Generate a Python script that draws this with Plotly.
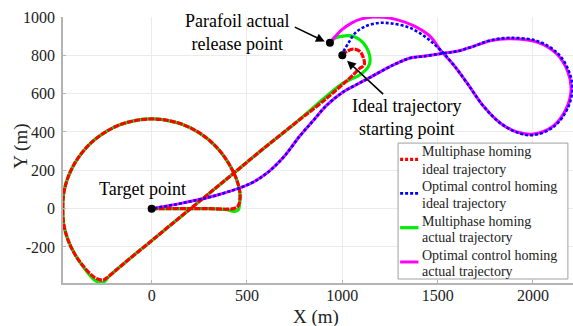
import plotly.graph_objects as go

# ---- trajectory samples (x, y in metres) ----
# Multiphase homing, ideal trajectory
mp_ideal_x = [1000, 1023, 1058, 1093, 1111, 1116, 1108, 1093, 1058, 919, 743, 569, 400, 204, 0, -150, -235,
              -252, -268, -301, -358, -405, -440, -461, -466, -461, -440, -405, -358, -301, -234, -160, -81,
              0, 81, 160, 234, 301, 358, 405, 446, 463, 460, 448, 430, 394, 300, 200, 100, 0]
mp_ideal_y = [800, 820, 833, 820, 786, 755, 742, 734, 699, 577, 438, 299, 160, 0, -167, -290, -361,
              -372, -372, -358, -301, -234, -160, -81, 0, 81, 160, 234, 301, 358, 405, 440, 461,
              468, 461, 440, 405, 358, 301, 234, 151, 82, 30, 8, 0, -3, 0, 0, 0, 0]

# Multiphase homing, actual trajectory
mp_actual_x = [935, 962, 1015, 1067, 1111, 1137, 1146, 1137, 1093, 1041, 1000, 743, 569, 400, 204, 0, -150,
               -225, -245, -268, -295, -341, -405, -440, -461, -466, -461, -440, -405, -358, -301, -234,
               -160, -81, 0, 81, 160, 234, 301, 358, 405, 446, 463, 462, 455, 438, 420, 394, 300, 200, 100, 0]
mp_actual_y = [865, 890, 902, 896, 864, 820, 777, 742, 699, 673, 652, 438, 299, 160, 0, -167, -290,
               -355, -378, -386, -376, -327, -234, -160, -81, 0, 81, 160, 234, 301, 358, 405,
               440, 461, 468, 461, 440, 405, 358, 301, 234, 151, 82, 35, -5, -14, -12, -5, 0, 0, 0, 0]

# Optimal control homing, ideal trajectory
oc_ideal_x = [1006, 1032, 1067, 1120, 1190, 1260, 1356, 1444, 1513, 1583, 1654, 1741, 1828, 1916, 2003,
              2108, 2178, 2207, 2189, 2128, 2021, 1881, 1776, 1688, 1601, 1540, 1426, 1356, 1268, 1146,
              1076, 1006, 919, 848, 778, 691, 604, 516, 341, 166, 0]
oc_ideal_y = [820, 864, 916, 951, 969, 966, 943, 890, 829, 751, 656, 534, 447, 398, 384,
              427, 516, 621, 716, 812, 875, 891, 878, 847, 821, 812, 795, 786, 750, 685,
              648, 610, 540, 460, 380, 268, 185, 130, 70, 30, 0]

# Optimal control homing, actual trajectory
oc_actual_x = [935, 960, 1000, 1050, 1100, 1160, 1220, 1290, 1373, 1461, 1513, 1583, 1654, 1741, 1828,
               1916, 2003, 2105, 2172, 2200, 2183, 2124, 2021, 1881, 1776, 1688, 1601, 1540, 1426, 1356,
               1268, 1146, 1076, 1006, 919, 848, 778, 691, 604, 516, 341, 166, 0]
oc_actual_y = [865, 895, 935, 969, 990, 1000, 998, 985, 955, 899, 829, 751, 656, 534, 447,
               400, 390, 430, 516, 621, 714, 808, 869, 886, 876, 847, 821, 812, 795, 786,
               750, 685, 648, 610, 540, 460, 380, 268, 185, 130, 70, 30, 0]

# Labelled points: target, ideal start, actual release
pt_x = [0, 1000, 935]
pt_y = [0, 800, 865]

# Axis ticks
x_ticks = [0, 500, 1000, 1500, 2000]
y_ticks = [-200, 0, 200, 400, 600, 800, 1000]

FONT = "Liberation Serif"
TXT = "#222222"

series = [
    # (x, y, colour, width, dash, legend text) -- actual runs first so the ideal ones sit on top
    (mp_actual_x, mp_actual_y, "#00ee00", 3.2, "solid", "Multiphase homing<br>actual trajectory"),
    (oc_actual_x, oc_actual_y, "#ff00ff", 3.0, "solid", "Optimal control homing<br>actual trajectory"),
    (mp_ideal_x, mp_ideal_y, "#ff0000", 3.2, "6px,1.2px", "Multiphase homing<br>ideal trajectory"),
    (oc_ideal_x, oc_ideal_y, "#0000ff", 2.6, "3px,2px", "Optimal control homing<br>ideal trajectory"),
]

fig = go.Figure()
for xs, ys, col, w, dash, name in series:
    fig.add_trace(go.Scatter(x=xs, y=ys, mode="lines", line_shape="spline",
                             line=dict(color=col, width=w, dash=dash),
                             name=name, showlegend=False))
fig.add_trace(go.Scatter(x=pt_x, y=pt_y, mode="markers", showlegend=False,
                         marker=dict(color="black", size=8)))

ann_font = dict(family=FONT, size=18, color="black")
fig.add_annotation(x=446, y=921, text="Parafoil actual<br>release point", showarrow=False,
                   font=ann_font)
fig.add_annotation(x=1335, y=475, text="Ideal trajectory<br>starting point", showarrow=False,
                   font=ann_font)
fig.add_annotation(x=-46, y=104, text="Target point", showarrow=False, font=ann_font)
# arrows pointing at the two start points
fig.add_annotation(x=908, y=872, ax=743, ay=951, axref="x", ayref="y", text="",
                   showarrow=True, arrowhead=2, arrowsize=1.1, arrowwidth=1.6, arrowcolor="black")
fig.add_annotation(x=1025, y=772, ax=1222, ay=590, axref="x", ayref="y", text="",
                   showarrow=True, arrowhead=2, arrowsize=1.1, arrowwidth=1.6, arrowcolor="black")

# axis titles
title_font = dict(family=FONT, size=19, color=TXT)
fig.add_annotation(xref="paper", yref="paper", x=0.496, y=-0.128, text="X (m)", showarrow=False,
                   xanchor="center", yanchor="middle", font=title_font)
fig.add_annotation(xref="paper", yref="paper", x=-0.084, y=0.513, text="Y (m)", showarrow=False,
                   textangle=-90, xanchor="center", yanchor="middle", font=title_font)

# ---- legend box (paper coordinates) ----
leg_x0, leg_x1, leg_y0, leg_y1 = 0.657, 0.990, 0.015, 0.526
fig.add_shape(type="rect", xref="paper", yref="paper", x0=leg_x0, x1=leg_x1, y0=leg_y0, y1=leg_y1,
              line=dict(color="#a0a0a0", width=1), fillcolor="white", layer="above")
legend_order = [2, 3, 0, 1]          # ideal MP, ideal OC, actual MP, actual OC
sample_y = [0.465, 0.337, 0.208, 0.079]
text_y = [(0.494, 0.427), (0.362, 0.300), (0.233, 0.170), (0.105, 0.042)]
for k, idx in enumerate(legend_order):
    _, _, col, w, dash, name = series[idx]
    fig.add_shape(type="line", xref="paper", yref="paper", x0=0.661, x1=0.697,
                  y0=sample_y[k], y1=sample_y[k], layer="above",
                  line=dict(color=col, width=w, dash=dash if dash == "solid" else "3px,2px"))
    for line_txt, ty in zip(name.split("<br>"), text_y[k]):
        fig.add_annotation(xref="paper", yref="paper", x=0.700, y=ty, text=line_txt,
                           showarrow=False, xanchor="left", yanchor="middle",
                           font=dict(family=FONT, size=14, color=TXT))

axis_common = dict(showgrid=True, gridcolor="#ebebeb", gridwidth=1, zeroline=False,
                   showline=True, linecolor="#b4b4b4", linewidth=1.5,
                   ticks="inside", ticklen=3, tickcolor="#b4b4b4",
                   tickfont=dict(family=FONT, size=16, color=TXT))

fig.update_xaxes(range=[-465, 2210], tickvals=x_ticks, ticktext=[str(v) for v in x_ticks],
                 ticklabelstandoff=-3, **axis_common)
fig.update_yaxes(range=[-388, 1000], tickvals=y_ticks, ticktext=[str(v) for v in y_ticks],
                 ticklabelstandoff=3, **axis_common)

fig.update_layout(
    width=573, height=326,
    margin=dict(l=63, r=0, t=17, b=43),
    plot_bgcolor="white", paper_bgcolor="white",
    showlegend=False,
    font=dict(family=FONT, color=TXT),
)

fig.write_html("out.html")
